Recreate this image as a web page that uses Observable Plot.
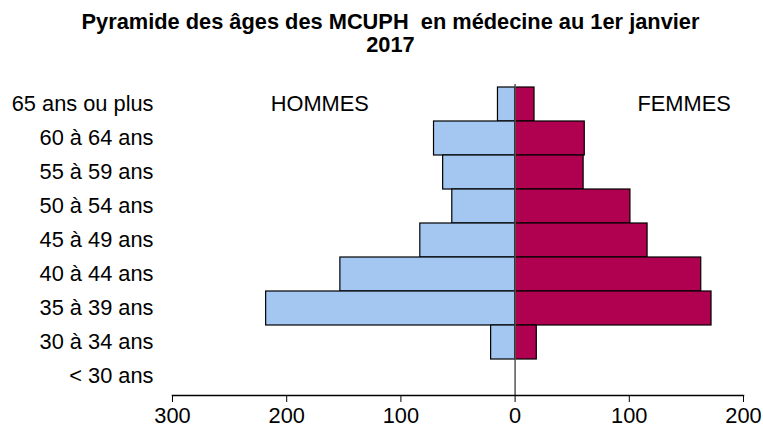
<!DOCTYPE html>
<html>
<head>
<meta charset="utf-8">
<script src="https://cdn.jsdelivr.net/npm/d3@7"></script>
<script src="https://cdn.jsdelivr.net/npm/@observablehq/plot@0.6"></script>
<style>
  body { margin: 0; background: #fff; font-family: "Liberation Sans", Arial, sans-serif; }
  #title { width: 763px; height: 60px; box-sizing: border-box; padding-top: 10px; padding-left: 18px;
           text-align: center; font-weight: bold; font-size: 21.8px; line-height: 23px; color: #000; }
</style>
</head>
<body>
<div id="title">Pyramide des âges des MCUPH&nbsp; en médecine au 1er janvier<br>2017</div>
<div id="chart"></div>
<script>
const ages = ["65 ans ou plus", "60 à 64 ans", "55 à 59 ans", "50 à 54 ans", "45 à 49 ans", "40 à 44 ans", "35 à 39 ans", "30 à 34 ans", "< 30 ans"];
const hommes = [15, 71, 63, 55, 83, 153, 218, 21, 0];
const femmes = [17, 61, 60, 101, 116, 163, 172, 19, 0];
const xTicks = [-300, -200, -100, 0, 100, 200];
const sexLabels = [{label: "HOMMES", x: -171}, {label: "FEMMES", x: 148}];

const data = ages.map((a, i) => ({age: a, hommes: hommes[i], femmes: femmes[i]}));

const plot = Plot.plot({
  width: 763,
  height: 370,
  marginTop: 24,
  marginBottom: 35,
  marginLeft: 172,
  marginRight: 20,
  style: {fontSize: "21.8px", fontFamily: "'Liberation Sans', Arial, sans-serif", color: "#000", background: "#fff"},
  x: {domain: [-300, 200], ticks: xTicks, tickFormat: d => Math.abs(d), tickSize: 7, tickPadding: 5, label: null},
  y: {domain: ages, padding: 0, tickSize: 0, tickPadding: 19, label: null},
  marks: [
    Plot.barX(data, {y: "age", x1: d => -d.hommes, x2: 0, fill: "#a3c7f1", stroke: "#000", strokeWidth: 1.2}),
    Plot.barX(data, {y: "age", x1: 0, x2: "femmes", fill: "#b00050", stroke: "#000", strokeWidth: 1.2}),
    Plot.ruleX([0], {stroke: "#555", strokeWidth: 1.5}),
    Plot.frame({anchor: "bottom", stroke: "#000", strokeWidth: 1.5}),
    Plot.text(sexLabels, {x: "x", y: () => ages[0], text: "label", fill: "#000", fontSize: 21.8})
  ]
});
document.getElementById("chart").appendChild(plot);
</script>
</body>
</html>
